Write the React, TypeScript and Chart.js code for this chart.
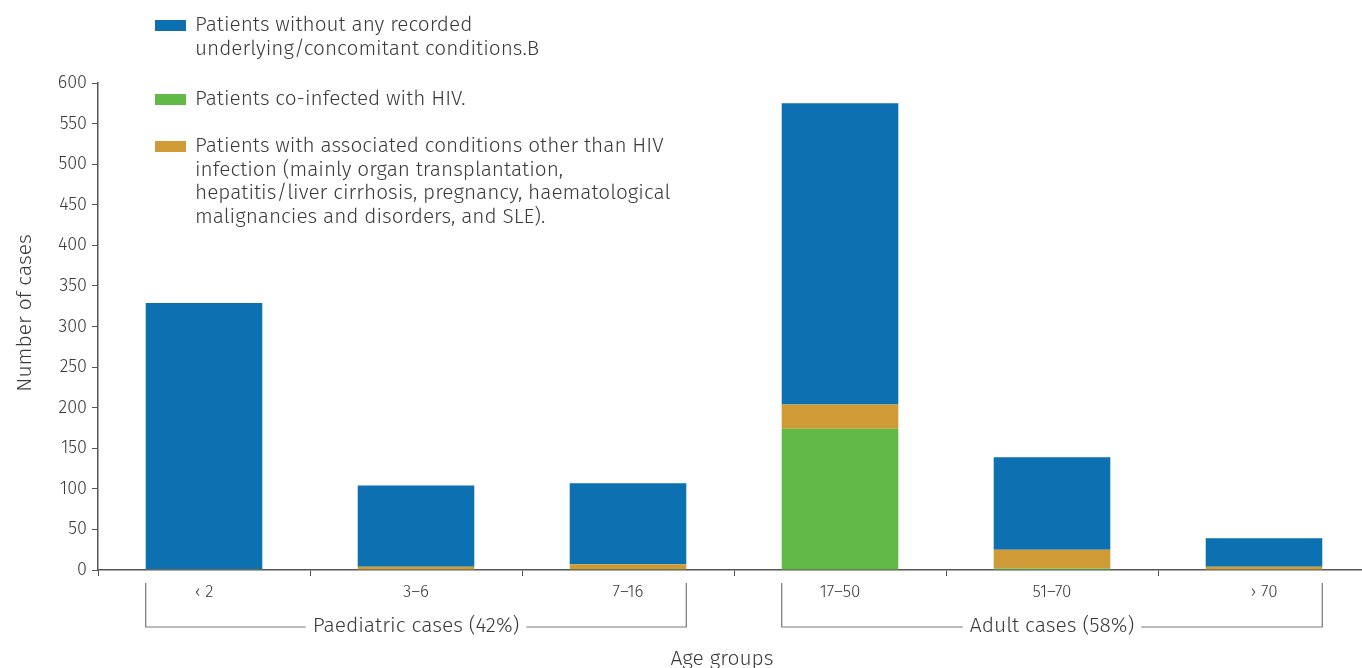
import React, { useEffect, useRef } from "react";
import { Chart, registerables } from "chart.js";

Chart.register(...registerables);

const categories = ["‹ 2", "3–6", "7–16", "17–50", "51–70", "› 70"];
const hivValues = [0, 0, 1, 174, 2, 0];
const otherValues = [1, 4, 6, 30, 23, 4];
const noneValues = [328, 100, 100, 371, 114, 35];

const yMin = 0;
const yMax = 600;
const yStep = 50;

const noneLabel = ["Patients without any recorded", "underlying/concomitant conditions.B"];
const hivLabel = ["Patients co-infected with HIV."];
const otherLabel = [
  "Patients with associated conditions other than HIV",
  "infection (mainly organ transplantation,",
  "hepatitis/liver cirrhosis, pregnancy, haematological",
  "malignancies and disorders, and SLE).",
];

const groupLabels = ["Paediatric cases (42%)", "Adult cases (58%)"];
const groupStart = [0, 3];
const groupEnd = [2, 5];

const xTitle = "Age groups";
const yTitle = "Number of cases";

const BLUE = "#0D71B1";
const GREEN = "#62B946";
const ORANGE = "#CF9B36";
const TEXT = "#3a3a3a";
const AXIS = "#555555";
const FONT = "'Fira Sans', Lato, 'Noto Sans', sans-serif";
const BIG = 21;
const LEG = 20.8;

const annotations = {
  id: "annotations",
  afterDraw(chart: any) {
    const ctx = chart.ctx;
    const xs = chart.scales.x;
    const meta = chart.getDatasetMeta(0);
    ctx.save();
    ctx.font = `300 ${BIG}px ${FONT}`;
    ctx.fillStyle = TEXT;
    ctx.textBaseline = "middle";
    ctx.textAlign = "center";
    ctx.strokeStyle = "#777777";
    ctx.lineWidth = 1.2;
    const topY = 583;
    const lineY = 627;
    for (let g = 0; g < groupLabels.length; g++) {
      const a = groupStart[g];
      const b = groupEnd[g];
      const wA = meta.data[a].width;
      const wB = meta.data[b].width;
      const x1 = xs.getPixelForValue(a) - wA / 2;
      const x2 = xs.getPixelForValue(b) + wB / 2;
      const cx = (x1 + x2) / 2;
      const tw = ctx.measureText(groupLabels[g]).width;
      const gap = tw / 2 + 7;
      ctx.beginPath();
      ctx.moveTo(x1, topY);
      ctx.lineTo(x1, lineY);
      ctx.lineTo(cx - gap, lineY);
      ctx.moveTo(cx + gap, lineY);
      ctx.lineTo(x2, lineY);
      ctx.lineTo(x2, topY);
      ctx.stroke();
      ctx.fillText(groupLabels[g], cx, lineY - 1);
    }
    ctx.fillText(xTitle, 722, 659);
    ctx.translate(25, 313);
    ctx.rotate(-Math.PI / 2);
    ctx.fillText(yTitle, 0, 0);
    ctx.restore();
  },
};

function LegendItem({ color, lines, top }: { color: string; lines: string[]; top: number }) {
  return (
    <div style={{ position: "absolute", left: 155, top, display: "flex", alignItems: "flex-start" }}>
      <div style={{ width: 31, height: 11, background: color, marginTop: 7, marginRight: 9, flexShrink: 0 }} />
      <div style={{ font: `300 ${LEG}px ${FONT}`, lineHeight: "23.5px", color: TEXT, whiteSpace: "nowrap" }}>
        {lines.map((l, i) => (
          <div key={i}>{l}</div>
        ))}
      </div>
    </div>
  );
}

export default function App() {
  const ref = useRef<HTMLCanvasElement | null>(null);
  useEffect(() => {
    if (!ref.current) return;
    const chart = new Chart(ref.current, {
      type: "bar",
      data: {
        labels: categories,
        datasets: [
          { label: hivLabel.join(" "), data: hivValues, backgroundColor: GREEN, stack: "s" },
          { label: otherLabel.join(" "), data: otherValues, backgroundColor: ORANGE, stack: "s" },
          { label: noneLabel.join(" "), data: noneValues, backgroundColor: BLUE, stack: "s" },
        ],
      },
      options: {
        animation: false,
        responsive: false,
        maintainAspectRatio: false,
        layout: { padding: { top: 83, right: 10, left: 0, bottom: 0 } },
        datasets: { bar: { categoryPercentage: 1, barPercentage: 0.55 } },
        plugins: { legend: { display: false }, tooltip: { enabled: false } },
        scales: {
          x: {
            stacked: true,
            afterFit(scale: any) {
              scale.height = 98;
            },
            border: { color: AXIS, width: 1.5 },
            grid: { display: true, drawOnChartArea: false, drawTicks: true, tickLength: 6, color: AXIS, offset: true },
            ticks: { color: TEXT, font: { family: FONT, size: 17, weight: "300" }, padding: 6, maxRotation: 0 },
          },
          y: {
            stacked: true,
            min: yMin,
            max: yMax,
            afterFit(scale: any) {
              scale.width = 98;
            },
            border: { color: AXIS, width: 1.5 },
            grid: { display: true, drawOnChartArea: false, drawTicks: true, tickLength: 6, color: AXIS },
            ticks: { stepSize: yStep, color: TEXT, font: { family: FONT, size: 18, weight: "300" }, padding: 5 },
          },
        },
      },
      plugins: [annotations],
    });
    return () => chart.destroy();
  }, []);
  return (
    <div style={{ position: "absolute", left: 0, top: 0, width: 1362, height: 668, overflow: "hidden", background: "#fff" }}>
      <canvas ref={ref} width={1380} height={668} style={{ position: "absolute", left: 0, top: 0, width: 1380, height: 668 }} />
      <LegendItem color={BLUE} lines={noneLabel} top={13} />
      <LegendItem color={GREEN} lines={hivLabel} top={87} />
      <LegendItem color={ORANGE} lines={otherLabel} top={134} />
    </div>
  );
}
